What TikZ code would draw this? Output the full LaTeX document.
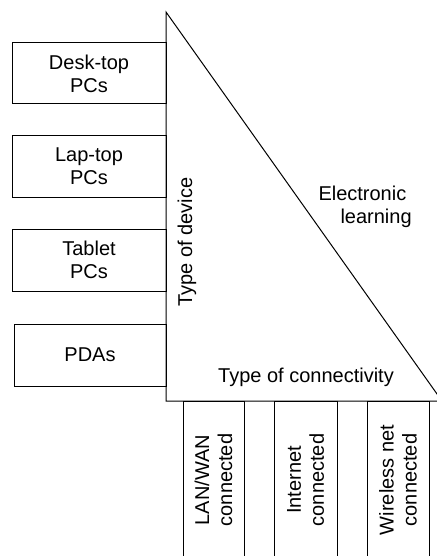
\documentclass[tikz,border=0pt]{standalone}
\usepackage{fontspec}
\setmainfont{Liberation Sans}
\begin{document}
\begin{tikzpicture}[x=1pt, y=-1pt, line width=1pt,
  every node/.style={font=\fontsize{20}{23}\selectfont},
  devbox/.style={draw, inner sep=0pt, align=center, minimum height=61pt},
  linkbox/.style={draw, inner sep=0pt, align=center, rotate=90, minimum width=158pt},
  plain/.style={inner sep=0pt}]
\useasboundingbox (0,0) rectangle (436,556);

% the e-learning triangle
\coordinate (apex) at (166,12);
\coordinate (corner) at (166,401);
\coordinate (tip) at (442,401);
\draw (apex) -- (corner) -- (tip) -- cycle;

% devices along the vertical side
\node[devbox, minimum width=154pt] (desk) at (89,73.5) {Desk-top\\PCs};
\node[devbox, minimum width=154pt] (lap) at (89,166.5) {Lap-top\\PCs};
\node[devbox, minimum width=154pt, minimum height=62pt] (tab) at (89,260) {Tablet\\PCs};
\node[devbox, minimum width=152pt, minimum height=62pt] (pda) at (90,355) {PDAs};

% connectivity along the base
\node[linkbox, minimum height=61pt] (lan) at (213.5,480) {LAN/WAN\\connected};
\node[linkbox, minimum height=63pt] (inet) at (305.5,480) {Internet\\connected};
\node[linkbox, minimum height=62pt] (wl) at (398,480) {Wireless net\\connected};

% labels inside the triangle
\node[plain, rotate=90] (devlabel) at (187,242) {Type of device};
\node[plain, anchor=base] (connlabel) at (306,382) {Type of connectivity};
\node[plain, anchor=base west] (el1) at (318,200) {Electronic};
\node[plain, anchor=base west] (el2) at (340,223) {learning};
\end{tikzpicture}
\end{document}
